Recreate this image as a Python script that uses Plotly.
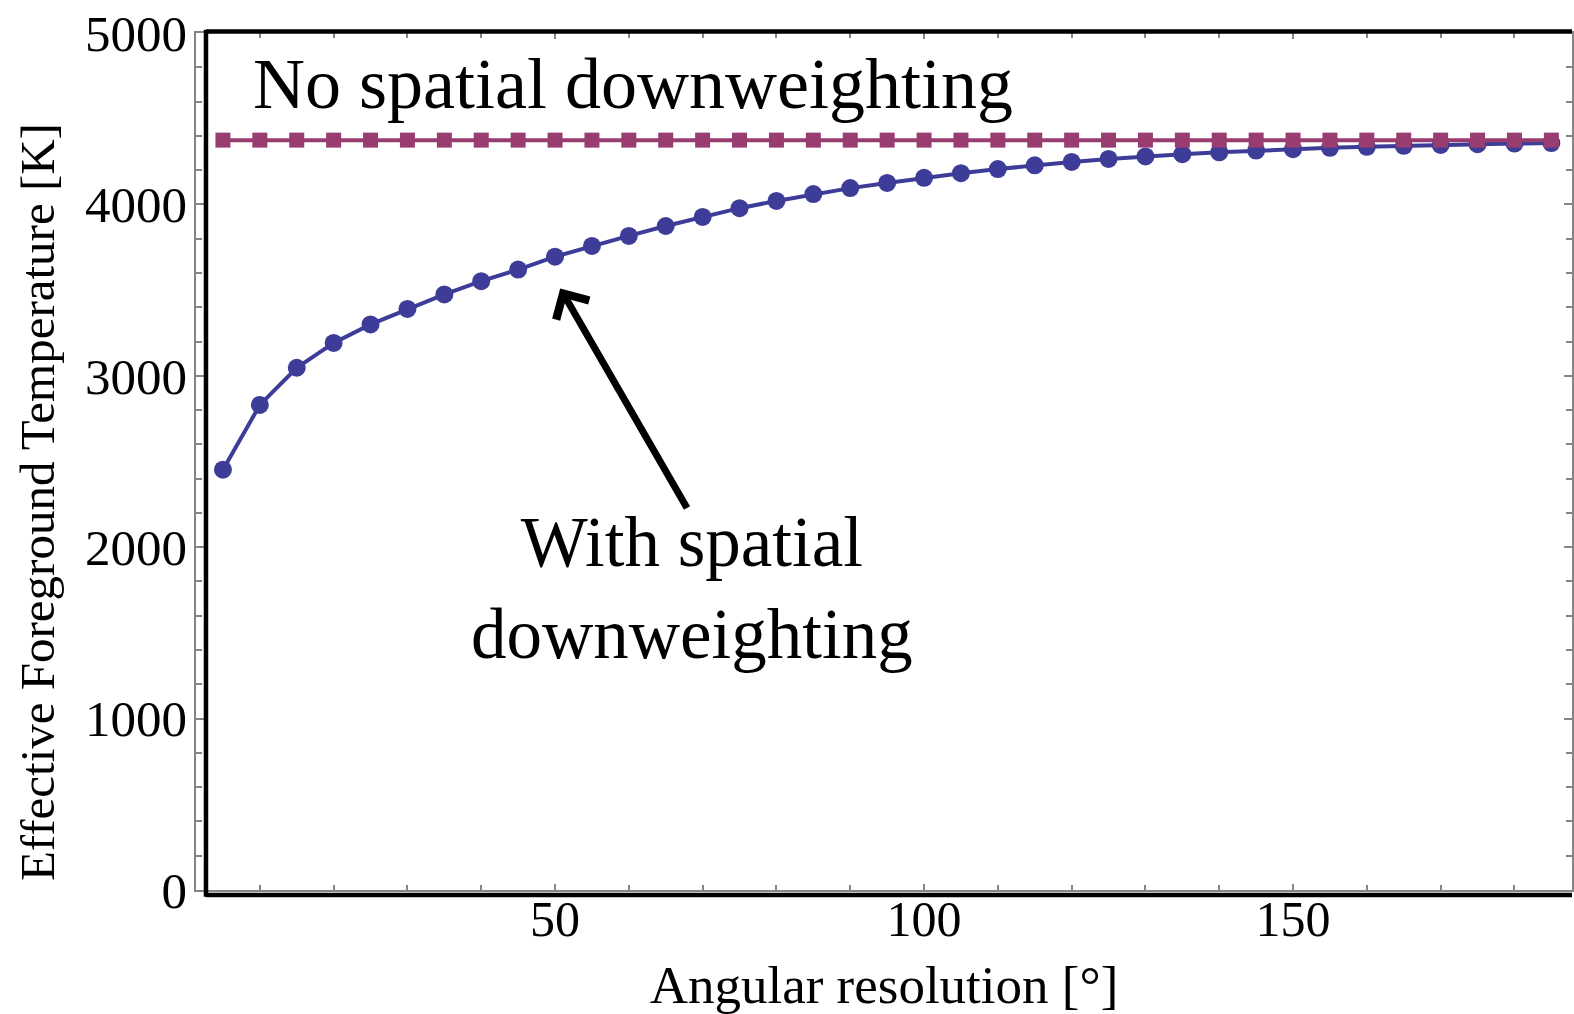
import plotly.graph_objects as go

# ---- data ----
angular_resolution = [5, 10, 15, 20, 25, 30, 35, 40, 45, 50, 55, 60, 65, 70, 75, 80, 85, 90, 95,
                      100, 105, 110, 115, 120, 125, 130, 135, 140, 145, 150, 155, 160, 165, 170,
                      175, 180, 185]
with_downweighting = [2452, 2830, 3047, 3192, 3300, 3390, 3475, 3552, 3620, 3695, 3758, 3816,
                      3874, 3927, 3978, 4020, 4060, 4095, 4125, 4155, 4182, 4206, 4228, 4248,
                      4265, 4280, 4293, 4304, 4314, 4322, 4330, 4336, 4342, 4347, 4351, 4355, 4358]
no_downweighting = [4375] * len(angular_resolution)

x_ticks = [50, 100, 150]
y_ticks = [0, 1000, 2000, 3000, 4000, 5000]

BLUE = "#3d3d99"
PURPLE = "#993d71"
FONT = "Liberation Serif"
AXIS_GRAY = "#858585"

fig = go.Figure()
fig.add_trace(go.Scatter(
    x=angular_resolution, y=with_downweighting, mode="lines+markers",
    line=dict(color=BLUE, width=4),
    marker=dict(symbol="circle", size=18, color=BLUE),
    showlegend=False, hoverinfo="x+y"))
fig.add_trace(go.Scatter(
    x=angular_resolution, y=no_downweighting, mode="lines+markers",
    line=dict(color=PURPLE, width=4),
    marker=dict(symbol="square", size=15, color=PURPLE),
    showlegend=False, hoverinfo="x+y"))

fig.update_layout(
    width=1574, height=1014,
    margin=dict(l=196, r=0, t=33, b=124),
    paper_bgcolor="white", plot_bgcolor="white",
    font=dict(family=FONT, color="black"),
    xaxis=dict(
        range=[1.35, 187.8], tickvals=x_ticks, ticktext=[str(v) for v in x_ticks],
        showgrid=False, zeroline=False,
        showline=True, linecolor=AXIS_GRAY, linewidth=1.5, mirror="allticks",
        ticks="inside", ticklen=6, tickwidth=1.5, tickcolor=AXIS_GRAY,
        minor=dict(dtick=10, tick0=0, ticks="inside", ticklen=5, tickwidth=1.5, tickcolor=AXIS_GRAY),
        tickfont=dict(family=FONT, size=50, color="black"),
        ticklabelstandoff=-16,
        title=dict(text="Angular resolution [°]", font=dict(family=FONT, size=53, color="black"), standoff=24),
    ),
    yaxis=dict(
        range=[0, 5000], tickvals=y_ticks, ticktext=[str(v) for v in y_ticks],
        showgrid=False, zeroline=False,
        showline=True, linecolor=AXIS_GRAY, linewidth=1.5, mirror="allticks",
        ticks="inside", ticklen=8, tickwidth=1.5, tickcolor=AXIS_GRAY,
        minor=dict(dtick=200, tick0=0, ticks="inside", ticklen=6, tickwidth=1.5, tickcolor=AXIS_GRAY),
        tickfont=dict(family=FONT, size=51, color="black"),
        ticklabelstandoff=-3,
    ),
)

# y-axis title placed as rotated text (offset like the reference)
fig.add_annotation(x=-0.1155, y=0.4527, xref="paper", yref="paper",
                   text="Effective Foreground Temperature [K]", textangle=-90,
                   showarrow=False, xanchor="center", yanchor="middle",
                   font=dict(family=FONT, size=49, color="black"))

# thick black frame lines (Mathematica-style) on left, top and bottom
left_x = 10 / 1378
top_y = 1 + 1.5 / 857
bot_y = -5.0 / 857
frame = dict(color="black", width=4.5)
fig.add_shape(type="line", xref="paper", yref="paper", x0=left_x, x1=left_x, y0=bot_y - 0.002, y1=top_y + 0.002, line=frame)
fig.add_shape(type="line", xref="paper", yref="paper", x0=left_x, x1=1, y0=top_y, y1=top_y, line=frame)
fig.add_shape(type="line", xref="paper", yref="paper", x0=left_x, x1=1, y0=bot_y, y1=bot_y, line=frame)

# labels
fig.add_annotation(x=8.8, y=4700, xref="x", yref="y", text="No spatial downweighting",
                   showarrow=False, xanchor="left", yanchor="middle",
                   font=dict(family=FONT, size=72, color="black"))
fig.add_annotation(x=68.6, y=1760, xref="x", yref="y", text="With spatial<br>downweighting",
                   showarrow=False, xanchor="center", yanchor="middle", align="center",
                   font=dict(family=FONT, size=71, color="black"))
# arrow
fig.add_annotation(x=50.7, y=3510, ax=68.0, ay=2220, xref="x", yref="y", axref="x", ayref="y",
                   text="", showarrow=True, arrowhead=4, arrowsize=1.05, arrowwidth=7,
                   arrowcolor="black", standoff=0)

fig.write_html("out.html")
